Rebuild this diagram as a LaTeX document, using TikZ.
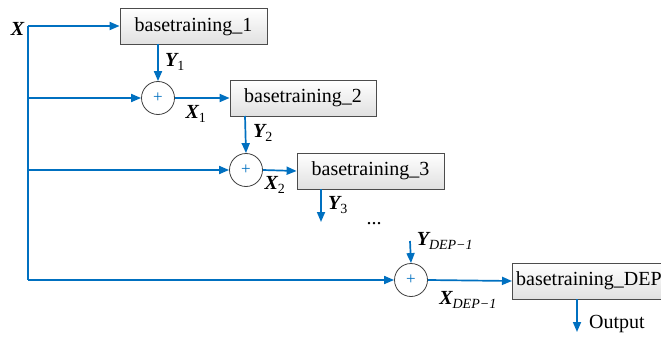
\documentclass[tikz,border=0pt]{standalone}
\usepackage{fontspec}
\setmainfont{Liberation Serif}
\usetikzlibrary{arrows.meta}
\definecolor{lblue}{RGB}{0,112,192}
\tikzset{
  every node/.style={font=\fontsize{20}{23}\selectfont, inner sep=0pt},
  boxnode/.style={draw=black!70, line width=0.8pt, top color=white, bottom color=black!12,
    minimum height=36pt, anchor=center},
  sumnode/.style={draw=black!75, line width=0.8pt, fill=white, circle, minimum size=33pt, text=lblue},
  conn/.style={draw=lblue, line width=1.7pt},
  arr/.style={conn, -{Triangle[length=10pt,width=8pt]}},
  lbl/.style={text=black}
}
\newcommand{\bvar}[1]{{\bfseries\itshape #1}}
\begin{document}
\begin{tikzpicture}[x=1pt,y=-1pt]
\useasboundingbox (0,0) rectangle (661,337);
\clip (0,0) rectangle (661,337);
% boxes
\node[boxnode, minimum width=147pt] (box1) at (193.5,26.5) {basetraining\_1};
\node[boxnode, minimum width=146pt] (box2) at (303,98) {basetraining\_2};
\node[boxnode, minimum width=147pt] (box3) at (370.5,171) {basetraining\_3};
\node[boxnode, minimum width=170pt, anchor=west] (box4) at (512,281) {};
\node[anchor=west] (t4) at (516,281) {basetraining\_DEP};
% sums
\node[sumnode] (c1) at (158,98) {\fontsize{17}{17}\selectfont +};
\node[sumnode] (c2) at (246,170) {\fontsize{17}{17}\selectfont +};
\node[sumnode] (c4) at (411,280) {\fontsize{17}{17}\selectfont +};
% coordinates
\coordinate (xs) at (28,26);
\coordinate (b2) at (28,98);
\coordinate (b3) at (28,170);
\coordinate (b4) at (28,280);
\coordinate (y1s) at (158,44);
\coordinate (y2s) at (245,116);
\coordinate (y3s) at (321,189);
\coordinate (y3e) at (321,222);
\coordinate (yds) at (410,241);
\coordinate (outs) at (577,299);
\coordinate (oute) at (577,332);
% connectors
\draw[conn] (xs) -- (b4);
\draw[arr] (xs) -- (box1.west |- xs);
\draw[arr] (y1s) -- (c1.north);
\draw[arr] (b2) -- (c1.west);
\draw[arr] (c1.east) -- (box2.west |- c1.east);
\draw[arr] (y2s) -- (c2.north);
\draw[arr] (b3) -- (c2.west);
\draw[arr] (c2.east) -- (box3.west);
\draw[arr] (y3s) -- (y3e);
\draw[arr] (yds) -- (c4.north);
\draw[arr] (b4) -- (c4.west);
\draw[arr] (c4.east) -- (box4.west);
\draw[arr] (outs) -- (oute);
% labels
\node[lbl] (lx) at (17.5,28.5) {\bvar{X}};
\node[lbl] (ly1) at (175,62) {\bvar{Y}\textsubscript{1}};
\node[lbl] (lx1) at (196,114) {\bvar{X}\textsubscript{1}};
\node[lbl] (ly2) at (263,133) {\bvar{Y}\textsubscript{2}};
\node[lbl] (lx2) at (275,185) {\bvar{X}\textsubscript{2}};
\node[lbl] (ly3) at (338,205) {\bvar{Y}\textsubscript{3}};
\node[lbl] (dots) at (374,224) {...};
\node[lbl] (lyd) at (445,241) {\bvar{Y}\textsubscript{\itshape DEP−1}};
\node[lbl] (lxd) at (468,300) {\bvar{X}\textsubscript{\itshape DEP−1}};
\node[lbl] (lout) at (617,324) {Output};
\end{tikzpicture}
\end{document}
